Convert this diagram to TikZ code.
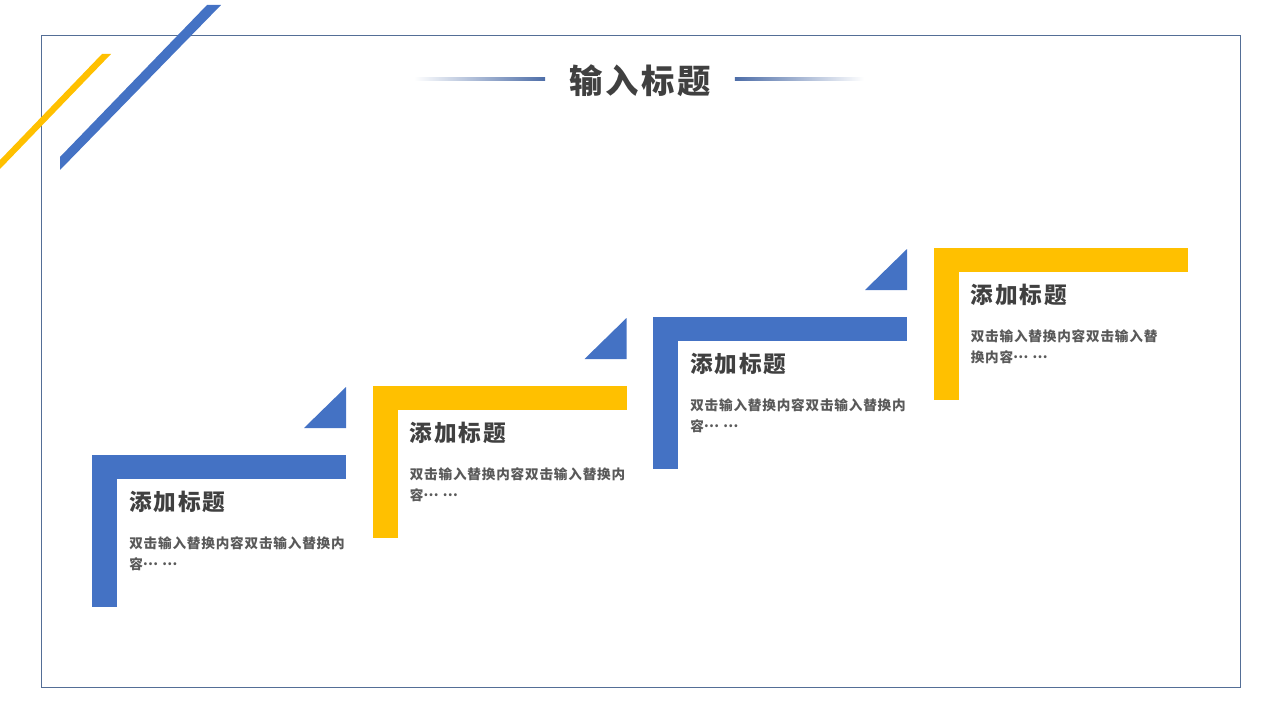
\documentclass[tikz,border=0pt]{standalone}
\usepackage{fontspec}
\setmainfont{Noto Sans CJK SC}
\newfontfamily\headfont[LetterSpace=8]{Noto Sans CJK SC}
\newfontfamily\bodyfont[LetterSpace=6]{Noto Sans CJK SC}
\usepackage{tikz}
\usetikzlibrary{positioning,calc}
\definecolor{stepblue}{RGB}{68,114,196}
\definecolor{stepgold}{RGB}{255,192,0}
\definecolor{framecolor}{RGB}{84,110,150}
\definecolor{ruleblue}{RGB}{78,110,168}
\definecolor{textdark}{RGB}{64,64,64}
\definecolor{textgray}{RGB}{89,89,89}
\newcommand\middots{\raisebox{0.3em}{…}}
\tikzset{
    step bar/.style={fill=#1, draw=none},
    step corner/.style={fill=stepblue, draw=none},
    step title/.style={anchor=west, inner sep=0pt, text=textdark,
        font=\headfont\bfseries\fontsize{17}{20}\selectfont},
    step body/.style={anchor=north west, inner sep=0pt, align=left, text=textgray,
        font=\bodyfont\bfseries\fontsize{10.2}{15.75}\selectfont},
    main title/.style={inner sep=0pt, text=textdark,
        font=\headfont\bfseries\fontsize{25}{30}\selectfont},
    deco stripe/.style={draw=none}
}

\begin{document}
\begin{tikzpicture}[x=0.75pt, y=-0.75pt]
\useasboundingbox (0,0) rectangle (1280,720);

% Frame
\draw[framecolor, line width=0.6pt] (41,35) rectangle (1240,687);

% Corner stripes
\fill[deco stripe, stepgold] (0,160) -- (102,54) -- (111,54) -- (0,169) -- cycle;
\fill[deco stripe, stepblue] (60,157) -- (207,5) -- (221,5) -- (60,170) -- cycle;

% Heading with fading rules
\node[main title] (heading) at (640,81) {输入标题};
\shade[left color=white, right color=ruleblue] ($(heading.west)+(-155,-3)$) rectangle ($(heading.west)+(-24,0)$);
\shade[left color=ruleblue, right color=white] ($(heading.east)+(24,-3)$) rectangle ($(heading.east)+(153,0)$);

% Steps
\foreach \i/\col/\lineA/\lineB in {
    0/stepblue/双击输入替换内容双击输入替换内/容\middots\ \middots,
    1/stepgold/双击输入替换内容双击输入替换内/容\middots\ \middots,
    2/stepblue/双击输入替换内容双击输入替换内/容\middots\ \middots,
    3/stepgold/双击输入替换内容双击输入替/换内容\middots\ \middots} {
    \pgfmathsetmacro{\xo}{92+280.5*\i}
    \pgfmathsetmacro{\yo}{455-69*\i}
    \fill[step bar=\col] (\xo,\yo) rectangle ++(254,24);
    \fill[step bar=\col] (\xo,\yo) rectangle ++(25,152);
    \ifnum\i<3
        \fill[step corner] (\xo+212,\yo-27) -- (\xo+254,\yo-27) -- (\xo+254,\yo-68) -- cycle;
    \fi
    \node[step title] (title\i) at (\xo+37,\yo+47) {添加标题};
    \node[step body] (body\i) at (\xo+37,\yo+81) {\lineA\\\lineB};
}
\end{tikzpicture}
\end{document}
